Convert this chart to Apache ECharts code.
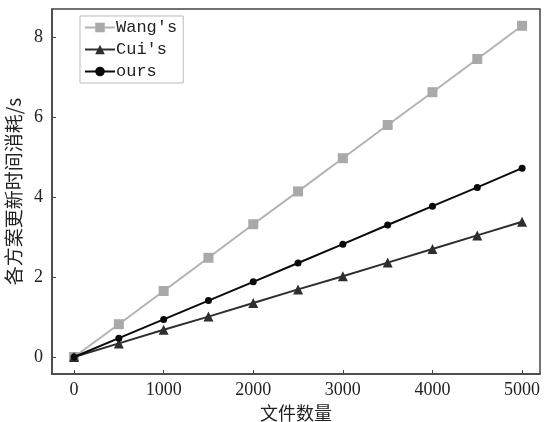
<!DOCTYPE html>
<html><head><meta charset="utf-8">
<script src="https://cdn.jsdelivr.net/npm/echarts@6/dist/echarts.min.js"></script>
<style>html,body{margin:0;padding:0;background:#fff}#c{width:544px;height:422px}</style>
</head><body><div id="c"></div>
<script>
const fileCounts = [0,500,1000,1500,2000,2500,3000,3500,4000,4500,5000];
const wangValues = [0,0.82,1.65,2.48,3.32,4.14,4.97,5.80,6.62,7.45,8.28];
const cuiValues  = [0,0.34,0.68,1.01,1.35,1.69,2.02,2.36,2.70,3.04,3.38];
const oursValues = [0,0.47,0.94,1.41,1.88,2.35,2.82,3.30,3.77,4.24,4.72];
const xTicks = [0,1000,2000,3000,4000,5000];
const yTicks = [0,2,4,6,8];
const seriesNames = ["Wang's","Cui's","ours"];

const pair = (vals) => fileCounts.map((x,i)=>[x, vals[i]]);
const chart = echarts.init(document.getElementById('c'), null, {renderer:'canvas'});
const serif = 'Liberation Serif';
const cjk = 'Noto Sans CJK SC';
chart.setOption({
  animation:false,
  backgroundColor:'#fff',
  grid:{left:52,right:4,top:9,bottom:48,show:true,borderColor:'#444',borderWidth:1.5,backgroundColor:'transparent',
        containLabel:false, outerBoundsMode:'none'},
  legend:{
    orient:'vertical', left:80, top:16, padding:[3,6,3,4], itemGap:5,
    itemWidth:30, itemHeight:12,
    borderColor:'#bbb', borderWidth:1, borderRadius:0, backgroundColor:'#fff',
    textStyle:{fontFamily:'Liberation Mono', fontSize:17, color:'#222', padding:[0,0,0,-4]},
    data:seriesNames
  },
  xAxis:{
    type:'value', min:-246, max:5200,
    name:'文件数量', nameLocation:'middle', nameGap:26,
    nameTextStyle:{fontFamily:cjk, fontSize:18, color:'#222'},
    axisLine:{show:true, onZero:false, lineStyle:{color:'#444', width:1.5}},
    axisTick:{show:true, inside:true, length:4, customValues:xTicks, lineStyle:{color:'#444'}},
    axisLabel:{customValues:xTicks, formatter:(v)=>String(v), fontFamily:serif, fontSize:18, color:'#222', margin:7},
    splitLine:{show:false}
  },
  yAxis:{
    type:'value', min:-0.425, max:8.7,
    name:'各方案更新时间消耗/s', nameLocation:'middle', nameGap:25,
    nameTextStyle:{fontFamily:cjk, fontSize:19, color:'#222'},
    axisLine:{show:true, onZero:false, lineStyle:{color:'#444', width:1.5}},
    axisTick:{show:true, inside:true, length:4, customValues:yTicks, lineStyle:{color:'#444'}},
    axisLabel:{customValues:yTicks, formatter:(v)=>String(v), fontFamily:serif, fontSize:18, color:'#222', margin:9},
    splitLine:{show:false}
  },
  series:[
    {name:seriesNames[0], type:'line', data:pair(wangValues), symbol:'rect', symbolSize:10,
     lineStyle:{color:'#b3b3b3', width:2}, itemStyle:{color:'#a9a9a9'}, z:2},
    {name:seriesNames[1], type:'line', data:pair(cuiValues), symbol:'triangle', symbolSize:10,
     lineStyle:{color:'#2e2e2e', width:2}, itemStyle:{color:'#2e2e2e'}, z:3},
    {name:seriesNames[2], type:'line', data:pair(oursValues), symbol:'circle', symbolSize:7,
     lineStyle:{color:'#0a0a0a', width:2}, itemStyle:{color:'#0a0a0a'}, z:4}
  ]
});
</script></body></html>
